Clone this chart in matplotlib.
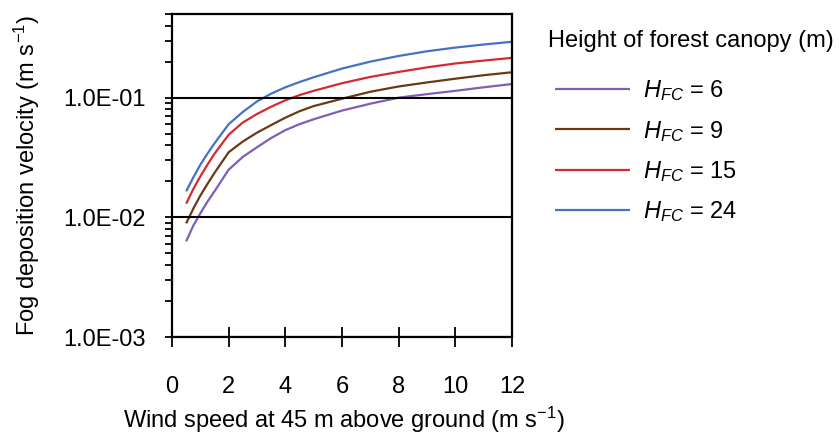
import matplotlib
matplotlib.use("Agg")
import matplotlib.pyplot as plt
from matplotlib.ticker import LogLocator, FuncFormatter, FixedLocator, NullFormatter

plt.rcParams["font.family"] = ["Liberation Sans", "DejaVu Sans"]
plt.rcParams["mathtext.fontset"] = "custom"
plt.rcParams["mathtext.rm"] = "Liberation Sans"
plt.rcParams["mathtext.it"] = "Liberation Sans:italic"

# Wind speed at 45 m (m/s)
wind_speed = [0.5, 0.75, 1, 1.25, 1.5, 2, 2.5, 3, 3.5, 4, 4.5, 5,
              6, 7, 8, 9, 10, 11, 12]

# Fog deposition velocity (m/s) for each canopy height
vd_h6 = [0.0063, 0.0085, 0.0108, 0.0135, 0.0165, 0.025, 0.032, 0.0385, 0.046,
         0.0535, 0.060, 0.066, 0.078, 0.089, 0.100, 0.107, 0.114, 0.122, 0.130]
vd_h9 = [0.0089, 0.0118, 0.0152, 0.019, 0.0235, 0.035, 0.043, 0.051, 0.059,
         0.068, 0.077, 0.085, 0.098, 0.112, 0.124, 0.134, 0.144, 0.154, 0.163]
vd_h15 = [0.013, 0.0172, 0.022, 0.0275, 0.034, 0.049, 0.062, 0.073, 0.084,
          0.095, 0.105, 0.114, 0.132, 0.149, 0.164, 0.179, 0.193, 0.204, 0.215]
vd_h24 = [0.0165, 0.0215, 0.0275, 0.034, 0.0415, 0.060, 0.076, 0.093, 0.108,
          0.122, 0.135, 0.148, 0.175, 0.200, 0.223, 0.244, 0.262, 0.278, 0.293]

canopy_heights = [6, 9, 15, 24]
series = [vd_h6, vd_h9, vd_h15, vd_h24]
colors = ["#7f5fb5", "#6b3a14", "#d42a30", "#4472c4"]

x_ticks = [0, 2, 4, 6, 8, 10, 12]

FS = 17

fig = plt.figure(figsize=(8.39, 4.36), dpi=100)
ax = fig.add_axes([172 / 839, 1 - 337 / 436, 340 / 839, 323 / 436])

for h, vals, c in zip(canopy_heights, series, colors):
    ax.plot(wind_speed, vals, color=c, lw=1.6, label=rf"$H_{{FC}}$ = {h}",
            solid_capstyle="butt", solid_joinstyle="round")

ax.set_yscale("log")
ax.set_xlim(0, 12)
ax.set_ylim(1e-3, 0.5)

ax.yaxis.set_major_locator(FixedLocator([1e-3, 1e-2, 1e-1]))
ax.yaxis.set_minor_locator(LogLocator(base=10, subs=range(2, 10), numticks=20))
ax.yaxis.set_major_formatter(FuncFormatter(lambda v, p: f"{v:.1E}"))
ax.yaxis.set_minor_formatter(NullFormatter())
ax.set_xticks(x_ticks)

ax.yaxis.grid(True, which="major", color="black", lw=1.5)
ax.set_axisbelow(False)

for s in ax.spines.values():
    s.set_linewidth(1.6)
    s.set_color("black")

ax.tick_params(axis="x", direction="inout", length=14, width=1.3,
               pad=21, labelsize=FS)
ax.tick_params(axis="y", which="major", direction="out", length=5, width=1.3,
               pad=14, labelsize=FS)
ax.tick_params(axis="y", which="minor", direction="out", length=5, width=1.3)

fig.text(344 / 839, 1 - 420 / 436,
         "Wind speed at 45 m above ground (m s$^{-1}$)",
         ha="center", va="center", fontsize=FS)
fig.text(27 / 839, 1 - 175 / 436,
         "Fog deposition velocity (m s$^{-1}$)",
         ha="center", va="center", rotation=90, fontsize=FS)

fig.text(548 / 839, 1 - 41 / 436, "Height of forest canopy (m)",
         ha="left", va="center", fontsize=FS)
ax.legend(loc="upper left", bbox_to_anchor=(555 / 839, 1 - 78.5 / 436),
          bbox_transform=fig.transFigure, frameon=False, fontsize=FS,
          borderpad=0, borderaxespad=0, handlelength=3.18,
          handletextpad=0.55, labelspacing=0.65)

fig.savefig("out.png", dpi=100)
